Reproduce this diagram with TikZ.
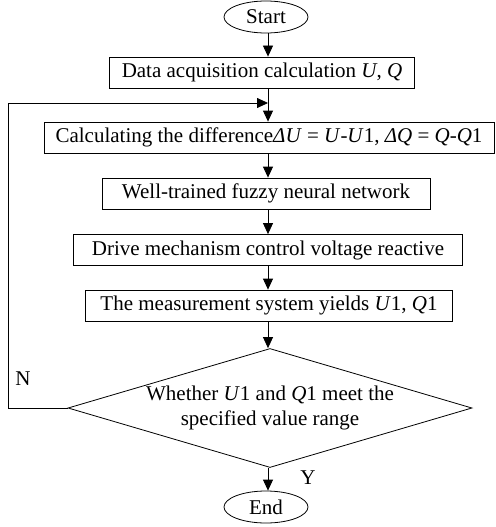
\documentclass[tikz,border=0pt]{standalone}
\usepackage{fontspec}
\setmainfont{Liberation Serif}
\usetikzlibrary{shapes.geometric,arrows.meta}

\begin{document}
\begin{tikzpicture}[x=1pt,y=-1pt,
        font=\fontsize{21}{25}\selectfont,
        line width=.8pt,
        box/.style={draw,minimum height=31pt,inner xsep=6pt,anchor=center},
        term/.style={draw,ellipse,minimum width=84pt,minimum height=32pt,inner sep=0pt},
        decision/.style={draw,diamond,aspect=3.4,minimum width=404pt,minimum height=119pt,
            inner sep=0pt,align=center},
        arr/.style={-{Triangle[length=11pt,width=10pt]}}]
        \useasboundingbox (0,0) rectangle (495,527);

        \node[term] (start) at (266,17) {Start};
        \node[box,minimum width=305pt] (data) at (262,72.5) {Data acquisition calculation \textit{U}, \textit{Q}};
        \node[box,minimum width=450pt] (diff) at (269,137.5)
            {Calculating the difference\textit{ΔU} = \textit{U}-\textit{U}1, \textit{ΔQ} = \textit{Q}-\textit{Q}1};
        \node[box,minimum width=328pt] (fuzzy) at (266,193.5) {Well-trained fuzzy neural network};
        \node[box,minimum width=389pt] (drive) at (268,250) {Drive mechanism control voltage reactive};
        \node[box,minimum width=367pt] (meas) at (269,305.5) {The measurement system yields \textit{U}1, \textit{Q}1};
        \node[decision] (check) at (270,408)
            {Whether \textit{U}1 and \textit{Q}1 meet the\\specified value range};
        \node[term] (stop) at (266,507) {End};

        % main flow
        \foreach \a/\b in {start/data, data/diff, diff/fuzzy, fuzzy/drive, drive/meas, meas/check}{
            \draw[arr] (\a.south -| 268,0) -- (\b.north -| 268,0);
        }
        \draw[arr] (check.south -| 268,0) -- (stop.north -| 268,0);

        % feedback
        \coordinate (loop) at (8,103);
        \coordinate (join) at (268,103);
        \draw[arr] (check.west) -| (loop) -- (join);

        \node (no) at (23,379) {N};
        \node (yes) at (308,478) {Y};
\end{tikzpicture}
\end{document}
